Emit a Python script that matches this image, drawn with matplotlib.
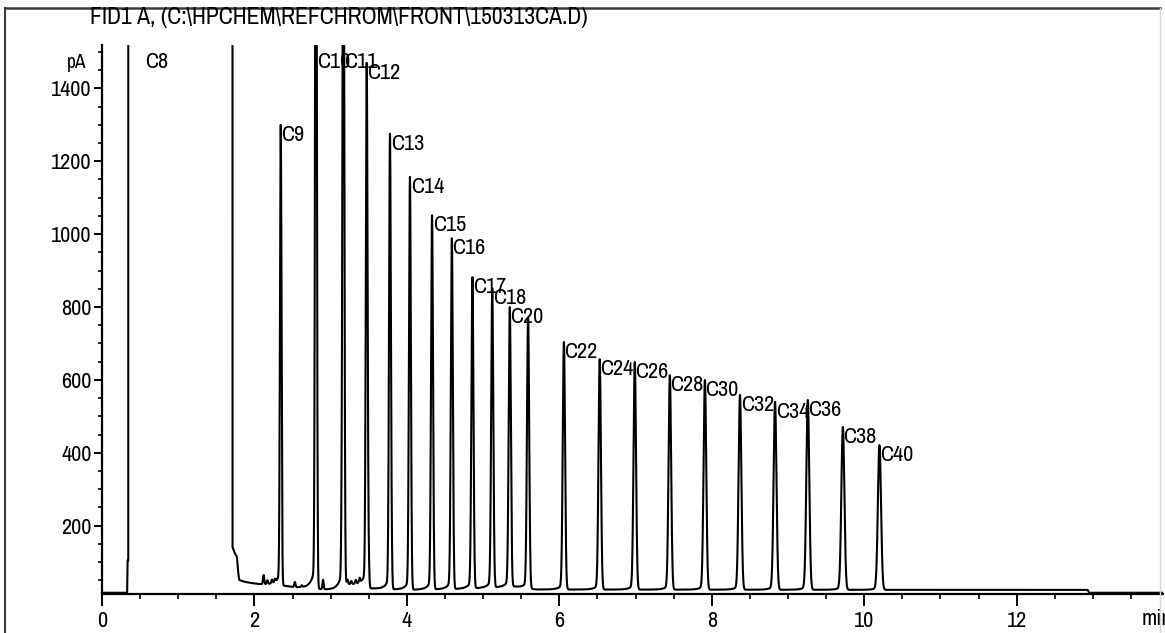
import numpy as np
import matplotlib
matplotlib.use("Agg")
import matplotlib.pyplot as plt
from matplotlib import font_manager as fm
from matplotlib.lines import Line2D
from matplotlib.ticker import MultipleLocator, FixedLocator

# narrow sans-serif for all report text
_installed = {f.name for f in fm.fontManager.ttflist}
_narrow = [n for n in ("Liberation Sans Narrow", "Arial Narrow", "Archivo Narrow",
                       "Roboto Condensed", "Barlow Condensed") if n in _installed]
plt.rcParams["font.family"] = _narrow[:1] + ["Liberation Sans", "DejaVu Sans"]

title_text = "FID1 A, (C:\\HPCHEM\\REFCHROM\\FRONT\\150313CA.D)"

# labelled n-alkane peaks: retention time (min) and apex signal (pA); '' = unlabelled
peak_names = ["C9", "C10", "C11", "C12", "C13", "C14", "C15", "C16", "C17", "C18",
              "C20", "", "C22", "C24", "C26", "C28", "C30", "C32", "C34", "C36",
              "C38", "C40"]
peak_times = [2.345, 2.807, 3.167, 3.473, 3.778, 4.040, 4.330, 4.590, 4.860, 5.120,
              5.350, 5.590, 6.060, 6.530, 6.990, 7.450, 7.910, 8.370, 8.830, 9.260,
              9.720, 10.200]
peak_heights = [1300, 2600, 2300, 1470, 1275, 1157, 1052, 989, 882, 852,
                800, 770, 704, 657, 649, 613, 600, 559, 540, 545,
                471, 421]

# solvent / C8 region that runs off scale
offscale_start = 0.345
offscale_end = 1.712
c8_time = 0.56

# small impurity peaks (height above baseline, pA)
minor_times = [2.12, 2.17, 2.23, 2.27, 2.53, 2.62, 2.90, 3.145, 3.22, 3.27, 3.33, 3.38, 3.50, 3.80]
minor_heights = [25, 10, 10, 8, 14, 5, 26, 100, 12, 8, 10, 12, 45, 40]

# baseline level (pA) at selected times
base_times = [0.00, 0.330, 0.335, 0.345, 1.712, 1.740, 1.770, 1.785, 1.800, 1.870, 1.950,
              2.050, 2.300, 2.500, 2.750, 2.920, 3.120, 3.190, 3.450, 3.520, 3.700,
              4.000, 4.600, 5.100, 5.400, 5.700, 10.30, 12.93, 12.95, 14.00]
base_levels = [16, 16, 105, 105, 142, 125, 115, 75, 51, 46, 43,
               40, 38, 32, 28, 25, 24, 40, 38, 28, 26,
               24, 26, 30, 33, 25, 24, 24, 16, 16]

# ---- build the detector trace ----
t = np.arange(0.0, 14.0, 0.0008)
baseline = np.interp(t, base_times, base_levels)
signal = baseline.copy()


def add_peak(t0, amp, sigma, front):
    global signal
    g = np.exp(-0.5 * ((t - t0) / sigma) ** 2)
    signal += amp * g
    left = t < t0
    signal[left] += front * amp * np.exp((t[left] - t0) / 0.05) * (1 - g[left])


for t0, h in zip(peak_times, peak_heights):
    amp = h - np.interp(t0, base_times, base_levels)
    add_peak(t0, amp, 0.007 + 0.0013 * t0, 0.03)

for t0, h in zip(minor_times, minor_heights):
    add_peak(t0, h, 0.008, 0.0)

signal[(t >= offscale_start) & (t <= offscale_end)] = 1.0e4

# ---- figure ----
W, H = 1165, 633
fig = plt.figure(figsize=(W / 100, H / 100), dpi=100)
ax = fig.add_axes([102 / W, (H - 594) / H, (1163 - 102) / W, (594 - 45) / H])

ax.plot(t, signal, color="black", lw=1.5)
ax.set_xlim(0, 13.92)
ax.set_ylim(12.6, 1519)

for s in ("top", "right"):
    ax.spines[s].set_visible(False)
for s in ("left", "bottom"):
    ax.spines[s].set_linewidth(1.6)

fs = 16
ax.xaxis.set_major_locator(MultipleLocator(2))
ax.xaxis.set_minor_locator(MultipleLocator(0.5))
ax.yaxis.set_major_locator(FixedLocator([200, 400, 600, 800, 1000, 1200, 1400]))
ax.yaxis.set_minor_locator(MultipleLocator(50))
ax.tick_params(axis="x", which="major", length=8.5, width=1.4, labelsize=fs, pad=4)
ax.tick_params(axis="x", which="minor", length=3.6, width=1.2)
ax.tick_params(axis="y", which="major", length=5.8, width=1.4, labelsize=fs, pad=1.5)
ax.tick_params(axis="y", which="minor", length=3.0, width=1.2)

# peak names: cap line sits at the apex; off-scale peaks are named at the top
cap = 0.72 * fs
label_top = 1500
for name, t0, h in zip(peak_names, peak_times, peak_heights):
    if name:
        ax.annotate(name, (t0, min(h, label_top)), xytext=(0.5, -cap), textcoords="offset points",
                    ha="left", va="baseline", fontsize=fs)
ax.annotate("C8", (c8_time, label_top), xytext=(0.5, -cap), textcoords="offset points",
            ha="left", va="baseline", fontsize=fs)

ax.text(-0.2, 1470, "pA", ha="right", va="center", fontsize=14, clip_on=False)
ax.text(13.64, -28, "min", ha="left", va="top", fontsize=fs, clip_on=False)

fig.text(90 / W, 1 - 18 / H, title_text, ha="left", va="center", fontsize=17)

# report frame
fig.add_artist(Line2D([5 / W, 1160 / W], [1 - 8 / H, 1 - 8 / H], color="#3a3a3a", lw=1.8))
fig.add_artist(Line2D([5 / W, 5 / W], [1 - 8 / H, 0], color="#3a3a3a", lw=1.5))
fig.add_artist(Line2D([1160 / W, 1160 / W], [1 - 8 / H, 0], color="#d8d8d8", lw=1.0))

fig.savefig("out.png", dpi=100)
